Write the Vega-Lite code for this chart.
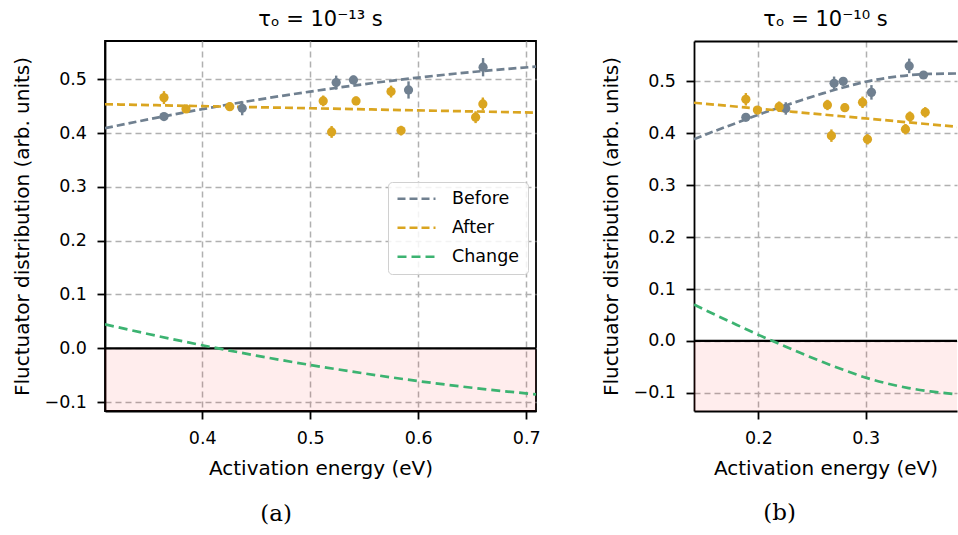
{
  "$schema": "https://vega.github.io/schema/vega-lite/v6.json",
  "background": "white",
  "padding": {"left": 11, "top": 8, "right": 0, "bottom": 0},
  "spacing": 59,
  "config": {
    "font": "DejaVu Sans",
    "axis": {"labelFont": "DejaVu Sans", "titleFont": "DejaVu Sans", "labelFontSize": 17.5, "titleFontSize": 20, "titleFontWeight": "normal", "labelColor": "black", "titleColor": "black", "tickColor": "black", "domainColor": "black", "tickSize": 8, "tickWidth": 1.8, "domainWidth": 1.8, "labelPadding": 10.5, "titlePadding": 11, "gridColor": "#b0b0b0", "gridDash": [6, 4], "gridWidth": 1.5, "labelFlush": false, "labelOverlap": false},
    "axisY": {"titlePadding": 12},
    "legend": {"orient": "none", "legendX": 283, "legendY": 141, "labelFont": "DejaVu Sans", "labelFontSize": 17.5, "labelColor": "black", "symbolType": "stroke", "symbolSize": 1444, "clipHeight": 17.5, "padding": 8, "rowPadding": 10, "labelOffset": 15, "fillColor": "rgba(255,255,255,0.85)", "strokeColor": "#d0d0d0", "cornerRadius": 4, "title": null},
    "title": {"font": "DejaVu Sans", "fontSize": 21, "fontWeight": "normal", "color": "black"},
    "view": {"stroke": "black", "strokeWidth": 1.8}
  },
  "datasets": {
    "ptsA": [
      {"series": "Before", "x": 0.3646, "y": 0.4305, "lo": 0.4255, "hi": 0.4355},
      {"series": "Before", "x": 0.437, "y": 0.446, "lo": 0.433, "hi": 0.459},
      {"series": "Before", "x": 0.524, "y": 0.4937, "lo": 0.4807, "hi": 0.5067},
      {"series": "Before", "x": 0.54, "y": 0.4987, "lo": 0.4907, "hi": 0.5067},
      {"series": "Before", "x": 0.591, "y": 0.48, "lo": 0.464, "hi": 0.496},
      {"series": "Before", "x": 0.66, "y": 0.5223, "lo": 0.5053, "hi": 0.5393},
      {"series": "After", "x": 0.3646, "y": 0.4658, "lo": 0.4538, "hi": 0.4778},
      {"series": "After", "x": 0.385, "y": 0.4448, "lo": 0.4398, "hi": 0.4498},
      {"series": "After", "x": 0.4255, "y": 0.449, "lo": 0.441, "hi": 0.457},
      {"series": "After", "x": 0.512, "y": 0.4597, "lo": 0.4497, "hi": 0.4697},
      {"series": "After", "x": 0.5198, "y": 0.402, "lo": 0.391, "hi": 0.413},
      {"series": "After", "x": 0.5424, "y": 0.4597, "lo": 0.4517, "hi": 0.4677},
      {"series": "After", "x": 0.5748, "y": 0.477, "lo": 0.466, "hi": 0.488},
      {"series": "After", "x": 0.5841, "y": 0.4045, "lo": 0.3955, "hi": 0.4135},
      {"series": "After", "x": 0.6531, "y": 0.4294, "lo": 0.4184, "hi": 0.4404},
      {"series": "After", "x": 0.6598, "y": 0.454, "lo": 0.442, "hi": 0.466}
    ],
    "curveA": [
      {"series": "Before", "x": 0.31, "y": 0.409},
      {"series": "Before", "x": 0.35, "y": 0.4253},
      {"series": "Before", "x": 0.4, "y": 0.4443},
      {"series": "Before", "x": 0.45, "y": 0.4615},
      {"series": "Before", "x": 0.5, "y": 0.477},
      {"series": "Before", "x": 0.55, "y": 0.4908},
      {"series": "Before", "x": 0.6, "y": 0.503},
      {"series": "Before", "x": 0.65, "y": 0.5134},
      {"series": "Before", "x": 0.709, "y": 0.5234},
      {"series": "After", "x": 0.31, "y": 0.4535},
      {"series": "After", "x": 0.4, "y": 0.45},
      {"series": "After", "x": 0.5, "y": 0.446},
      {"series": "After", "x": 0.6, "y": 0.4421},
      {"series": "After", "x": 0.709, "y": 0.4378},
      {"series": "Change", "x": 0.31, "y": 0.0445},
      {"series": "Change", "x": 0.35, "y": 0.0266},
      {"series": "Change", "x": 0.4, "y": 0.0057},
      {"series": "Change", "x": 0.45, "y": -0.0135},
      {"series": "Change", "x": 0.5, "y": -0.031},
      {"series": "Change", "x": 0.55, "y": -0.0467},
      {"series": "Change", "x": 0.6, "y": -0.0609},
      {"series": "Change", "x": 0.65, "y": -0.0733},
      {"series": "Change", "x": 0.709, "y": -0.0856}
    ],
    "ptsB": [
      {"series": "Before", "x": 0.1883, "y": 0.431, "lo": 0.426, "hi": 0.436},
      {"series": "Before", "x": 0.2255, "y": 0.448, "lo": 0.436, "hi": 0.46},
      {"series": "Before", "x": 0.2705, "y": 0.4965, "lo": 0.4835, "hi": 0.5095},
      {"series": "Before", "x": 0.279, "y": 0.5003, "lo": 0.4923, "hi": 0.5083},
      {"series": "Before", "x": 0.3053, "y": 0.479, "lo": 0.465, "hi": 0.493},
      {"series": "Before", "x": 0.3405, "y": 0.53, "lo": 0.516, "hi": 0.544},
      {"series": "Before", "x": 0.3538, "y": 0.5125, "lo": 0.5055, "hi": 0.5195},
      {"series": "After", "x": 0.1883, "y": 0.4657, "lo": 0.4537, "hi": 0.4777},
      {"series": "After", "x": 0.1991, "y": 0.445, "lo": 0.439, "hi": 0.451},
      {"series": "After", "x": 0.2193, "y": 0.4515, "lo": 0.4415, "hi": 0.4615},
      {"series": "After", "x": 0.2643, "y": 0.4547, "lo": 0.4447, "hi": 0.4647},
      {"series": "After", "x": 0.268, "y": 0.3956, "lo": 0.3836, "hi": 0.4076},
      {"series": "After", "x": 0.2805, "y": 0.4495, "lo": 0.4415, "hi": 0.4575},
      {"series": "After", "x": 0.297, "y": 0.4599, "lo": 0.4489, "hi": 0.4709},
      {"series": "After", "x": 0.3016, "y": 0.3886, "lo": 0.3786, "hi": 0.3986},
      {"series": "After", "x": 0.337, "y": 0.408, "lo": 0.398, "hi": 0.418},
      {"series": "After", "x": 0.3411, "y": 0.4322, "lo": 0.4222, "hi": 0.4422},
      {"series": "After", "x": 0.3554, "y": 0.4406, "lo": 0.4306, "hi": 0.4506}
    ],
    "curveB": [
      {"series": "Before", "x": 0.14, "y": 0.389},
      {"series": "Before", "x": 0.16, "y": 0.405},
      {"series": "Before", "x": 0.18, "y": 0.4205},
      {"series": "Before", "x": 0.2, "y": 0.436},
      {"series": "Before", "x": 0.22, "y": 0.45},
      {"series": "Before", "x": 0.24, "y": 0.464},
      {"series": "Before", "x": 0.26, "y": 0.477},
      {"series": "Before", "x": 0.28, "y": 0.489},
      {"series": "Before", "x": 0.3, "y": 0.4995},
      {"series": "Before", "x": 0.32, "y": 0.507},
      {"series": "Before", "x": 0.34, "y": 0.512},
      {"series": "Before", "x": 0.36, "y": 0.5145},
      {"series": "Before", "x": 0.39, "y": 0.5155},
      {"series": "After", "x": 0.14, "y": 0.459},
      {"series": "After", "x": 0.2, "y": 0.4477},
      {"series": "After", "x": 0.25, "y": 0.4382},
      {"series": "After", "x": 0.3, "y": 0.4288},
      {"series": "After", "x": 0.34, "y": 0.4212},
      {"series": "After", "x": 0.39, "y": 0.4117},
      {"series": "Change", "x": 0.14, "y": 0.07},
      {"series": "Change", "x": 0.16, "y": 0.0502},
      {"series": "Change", "x": 0.18, "y": 0.0309},
      {"series": "Change", "x": 0.2, "y": 0.0117},
      {"series": "Change", "x": 0.22, "y": -0.0061},
      {"series": "Change", "x": 0.24, "y": -0.0239},
      {"series": "Change", "x": 0.26, "y": -0.0407},
      {"series": "Change", "x": 0.28, "y": -0.0564},
      {"series": "Change", "x": 0.3, "y": -0.0707},
      {"series": "Change", "x": 0.32, "y": -0.082},
      {"series": "Change", "x": 0.34, "y": -0.0908},
      {"series": "Change", "x": 0.36, "y": -0.0971},
      {"series": "Change", "x": 0.39, "y": -0.1038}
    ]
  },
  "hconcat": [
    {
      "title": {"text": "(a)", "orient": "bottom", "font": "DejaVu Serif", "fontSize": 23, "baseline": "alphabetic", "offset": 42, "anchor": "middle"},
      "vconcat": [
        {
          "width": 431,
          "height": 370,
          "title": {"text": "τₒ = 10⁻¹³ s", "baseline": "alphabetic", "offset": -6, "anchor": "middle"},
          "layer": [
            {
              "data": {"values": [{}]},
              "mark": {"type": "rect", "color": "#ff0000", "opacity": 0.07, "clip": true},
              "encoding": {
                "y": {"datum": 0, "type": "quantitative", "scale": {"domain": [-0.1165, 0.571], "nice": false, "zero": false}, "axis": {"values": [-0.1, 0, 0.1, 0.2, 0.3, 0.4, 0.5], "format": ".1f", "title": "Fluctuator distribution (arb. units)", "grid": true}},
                "y2": {"datum": -1}
              }
            },
            {
              "data": {"values": [{}]},
              "mark": {"type": "rule", "color": "black", "strokeWidth": 2.2},
              "encoding": {
                "y": {"datum": 0, "type": "quantitative", "scale": {"domain": [-0.1165, 0.571], "nice": false, "zero": false}, "axis": {"values": [-0.1, 0, 0.1, 0.2, 0.3, 0.4, 0.5], "format": ".1f", "title": "Fluctuator distribution (arb. units)", "grid": true}}
              }
            },
            {
              "data": {"name": "curveA"},
              "mark": {"type": "line", "interpolate": "monotone", "clip": true},
              "encoding": {
                "x": {"field": "x", "type": "quantitative", "scale": {"domain": [0.31, 0.709], "nice": false, "zero": false}, "axis": {"values": [0.4, 0.5, 0.6, 0.7], "format": ".1f", "title": "Activation energy (eV)", "grid": true}},
                "y": {"field": "y", "type": "quantitative", "scale": {"domain": [-0.1165, 0.571], "nice": false, "zero": false}, "axis": {"values": [-0.1, 0, 0.1, 0.2, 0.3, 0.4, 0.5], "format": ".1f", "title": "Fluctuator distribution (arb. units)", "grid": true}},
                "color": {"field": "series", "type": "nominal", "scale": {"domain": ["Before", "After", "Change"], "range": ["#708090", "#DAA520", "#3CB371"]}, "legend": {"title": null}},
                "strokeWidth": {"field": "series", "type": "nominal", "scale": {"domain": ["Before", "After", "Change"], "range": [2.7, 2.7, 3.6]}, "legend": {"title": null}},
                "strokeDash": {"field": "series", "type": "nominal", "scale": {"domain": ["Before", "After", "Change"], "range": [[8, 4], [8, 4], [9, 5]]}, "legend": {"title": null}}
              }
            },
            {
              "data": {"name": "ptsA"},
              "mark": {"type": "rule", "strokeWidth": 2.4},
              "encoding": {
                "x": {"field": "x", "type": "quantitative", "scale": {"domain": [0.31, 0.709], "nice": false, "zero": false}, "axis": {"values": [0.4, 0.5, 0.6, 0.7], "format": ".1f", "title": "Activation energy (eV)", "grid": true}},
                "y": {"field": "lo", "type": "quantitative", "scale": {"domain": [-0.1165, 0.571], "nice": false, "zero": false}, "axis": {"values": [-0.1, 0, 0.1, 0.2, 0.3, 0.4, 0.5], "format": ".1f", "title": "Fluctuator distribution (arb. units)", "grid": true}},
                "y2": {"field": "hi"},
                "color": {"field": "series", "type": "nominal", "scale": {"domain": ["Before", "After", "Change"], "range": ["#708090", "#DAA520", "#3CB371"]}, "legend": null}
              }
            },
            {
              "data": {"name": "ptsA"},
              "mark": {"type": "circle", "size": 85, "opacity": 1},
              "encoding": {
                "x": {"field": "x", "type": "quantitative", "scale": {"domain": [0.31, 0.709], "nice": false, "zero": false}, "axis": {"values": [0.4, 0.5, 0.6, 0.7], "format": ".1f", "title": "Activation energy (eV)", "grid": true}},
                "y": {"field": "y", "type": "quantitative", "scale": {"domain": [-0.1165, 0.571], "nice": false, "zero": false}, "axis": {"values": [-0.1, 0, 0.1, 0.2, 0.3, 0.4, 0.5], "format": ".1f", "title": "Fluctuator distribution (arb. units)", "grid": true}},
                "color": {"field": "series", "type": "nominal", "scale": {"domain": ["Before", "After", "Change"], "range": ["#708090", "#DAA520", "#3CB371"]}, "legend": null}
              }
            }
          ]
        }
      ]
    },
    {
      "title": {"text": "(b)", "orient": "bottom", "font": "DejaVu Serif", "fontSize": 23, "baseline": "alphabetic", "offset": 42, "anchor": "middle"},
      "vconcat": [
        {
          "width": 263,
          "height": 370,
          "view": {"stroke": null},
          "title": {"text": "τₒ = 10⁻¹⁰ s", "baseline": "alphabetic", "offset": -6, "anchor": "middle"},
          "resolve": {"axis": {"x": "independent"}},
          "layer": [
            {
              "data": {"values": [{}]},
              "mark": {"type": "rect", "color": "#ff0000", "opacity": 0.07, "clip": true},
              "encoding": {
                "y": {"datum": 0, "type": "quantitative", "scale": {"domain": [-0.135, 0.578], "nice": false, "zero": false}, "axis": {"values": [-0.1, 0, 0.1, 0.2, 0.3, 0.4, 0.5], "format": ".1f", "title": "Fluctuator distribution (arb. units)", "grid": true}},
                "y2": {"datum": -1}
              }
            },
            {
              "data": {"values": [{}]},
              "mark": {"type": "rule", "color": "black", "strokeWidth": 2.2},
              "encoding": {
                "y": {"datum": 0, "type": "quantitative", "scale": {"domain": [-0.135, 0.578], "nice": false, "zero": false}, "axis": {"values": [-0.1, 0, 0.1, 0.2, 0.3, 0.4, 0.5], "format": ".1f", "title": "Fluctuator distribution (arb. units)", "grid": true}}
              }
            },
            {
              "data": {"name": "curveB"},
              "mark": {"type": "line", "interpolate": "monotone", "clip": true},
              "encoding": {
                "x": {"field": "x", "type": "quantitative", "scale": {"domain": [0.14, 0.385], "nice": false, "zero": false}, "axis": {"orient": "bottom", "values": [0.2, 0.3], "format": ".1f", "title": "Activation energy (eV)", "grid": true}},
                "y": {"field": "y", "type": "quantitative", "scale": {"domain": [-0.135, 0.578], "nice": false, "zero": false}, "axis": {"values": [-0.1, 0, 0.1, 0.2, 0.3, 0.4, 0.5], "format": ".1f", "title": "Fluctuator distribution (arb. units)", "grid": true}},
                "color": {"field": "series", "type": "nominal", "scale": {"domain": ["Before", "After", "Change"], "range": ["#708090", "#DAA520", "#3CB371"]}, "legend": null},
                "strokeWidth": {"field": "series", "type": "nominal", "scale": {"domain": ["Before", "After", "Change"], "range": [2.7, 2.7, 3.6]}, "legend": null},
                "strokeDash": {"field": "series", "type": "nominal", "scale": {"domain": ["Before", "After", "Change"], "range": [[8, 4], [8, 4], [9, 5]]}, "legend": null}
              }
            },
            {
              "data": {"name": "ptsB"},
              "mark": {"type": "rule", "strokeWidth": 2.4},
              "encoding": {
                "x": {"field": "x", "type": "quantitative", "scale": {"domain": [0.14, 0.385], "nice": false, "zero": false}, "axis": null},
                "y": {"field": "lo", "type": "quantitative", "scale": {"domain": [-0.135, 0.578], "nice": false, "zero": false}, "axis": {"values": [-0.1, 0, 0.1, 0.2, 0.3, 0.4, 0.5], "format": ".1f", "title": "Fluctuator distribution (arb. units)", "grid": true}},
                "y2": {"field": "hi"},
                "color": {"field": "series", "type": "nominal", "scale": {"domain": ["Before", "After", "Change"], "range": ["#708090", "#DAA520", "#3CB371"]}, "legend": null}
              }
            },
            {
              "data": {"name": "ptsB"},
              "mark": {"type": "circle", "size": 85, "opacity": 1},
              "encoding": {
                "x": {"field": "x", "type": "quantitative", "scale": {"domain": [0.14, 0.385], "nice": false, "zero": false}, "axis": {"orient": "top", "labels": false, "ticks": false, "grid": false, "domain": true, "title": null}},
                "y": {"field": "y", "type": "quantitative", "scale": {"domain": [-0.135, 0.578], "nice": false, "zero": false}, "axis": {"values": [-0.1, 0, 0.1, 0.2, 0.3, 0.4, 0.5], "format": ".1f", "title": "Fluctuator distribution (arb. units)", "grid": true}},
                "color": {"field": "series", "type": "nominal", "scale": {"domain": ["Before", "After", "Change"], "range": ["#708090", "#DAA520", "#3CB371"]}, "legend": null}
              }
            }
          ]
        }
      ]
    }
  ]
}
